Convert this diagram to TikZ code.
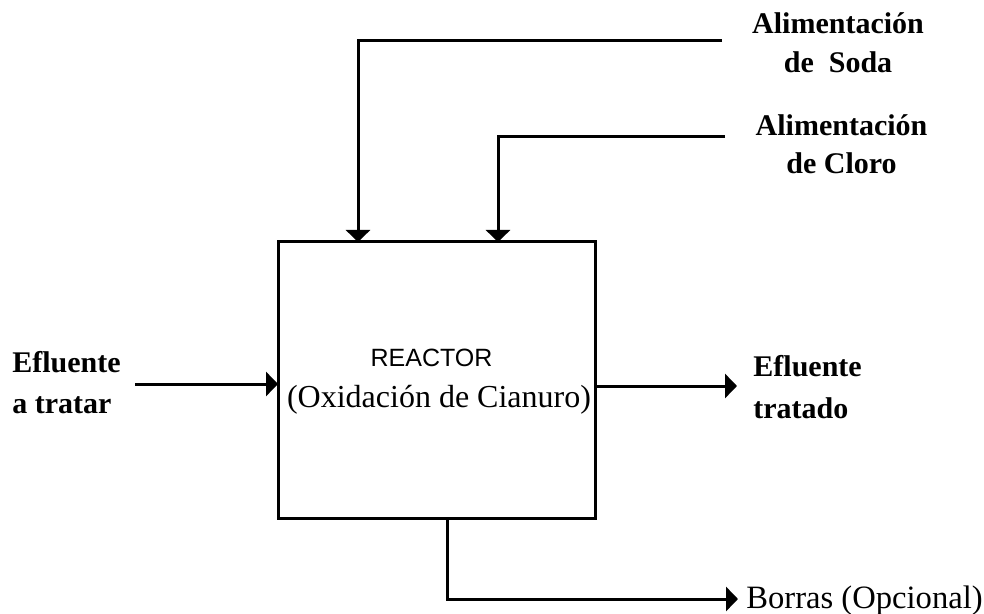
\documentclass[tikz,border=0pt]{standalone}
\usepackage{fontspec}
\setmainfont{Liberation Serif}
\setsansfont{Liberation Sans}
\usetikzlibrary{arrows.meta,calc}

\begin{document}
\begin{tikzpicture}[x=0.5pt,y=-0.5pt,
  flow/.style={line width=1.5pt,-{Triangle[length=6pt,width=12pt]}},
  reactorbox/.style={draw,line width=1.5pt,minimum width=158.5pt,minimum height=138pt,inner sep=0pt,outer sep=0pt},
  tag/.style={inner sep=0pt,font=\fontsize{15}{19}\selectfont\bfseries},
  plain/.style={inner sep=0pt,font=\fontsize{16}{19}\selectfont},
  title/.style={inner sep=0pt,font=\fontsize{12.5}{15}\selectfont\sffamily}]

  % canvas
  \useasboundingbox (0,0) rectangle (984,614);

  % reactor
  \node[reactorbox] (reactor) at (436.5,380) {};
  \node[title,anchor=base] (rtitle) at (431.5,366) {REACTOR};
  \node[plain,anchor=base] (rsub) at (439,408) {(Oxidación de Cianuro)};

  % feed labels
  \node[tag,anchor=base] (soda1) at (838,34) {Alimentación};
  \node[tag,anchor=base] (soda2) at (838,73) {de~~Soda};
  \node[tag,anchor=base] (cloro1) at (841.5,136) {Alimentación};
  \node[tag,anchor=base] (cloro2) at (841.5,174) {de Cloro};

  % inlet and outlet labels
  \node[tag,anchor=base west] (in1) at (12,372) {Efluente};
  \node[tag,anchor=base west] (in2) at (12,413) {a tratar};
  \node[tag,anchor=base west] (out1) at (753,376) {Efluente};
  \node[tag,anchor=base west] (out2) at (753,418) {tratado};
  \node[plain,anchor=base west,font=\fontsize{16.3}{19}\selectfont] (borras) at (746,608) {Borras (Opcional)};

  % free ends of the streams
  \coordinate (sodaStart) at (722,41);
  \coordinate (cloroStart) at (725,137);
  \coordinate (inStart) at (135,384);
  \coordinate (outEnd) at (737,386);
  \coordinate (borrasEnd) at (738,599);

  % streams
  \draw[flow] (sodaStart) -| ([xshift=40pt]reactor.north west);
  \draw[flow] (cloroStart) -| ([xshift=110pt]reactor.north west);
  \draw[flow] (inStart) -- (inStart -| reactor.west);
  \draw[flow] (reactor.east |- outEnd) -- (outEnd);
  \draw[flow] ([xshift=84.5pt]reactor.south west) |- (borrasEnd);
\end{tikzpicture}
\end{document}
